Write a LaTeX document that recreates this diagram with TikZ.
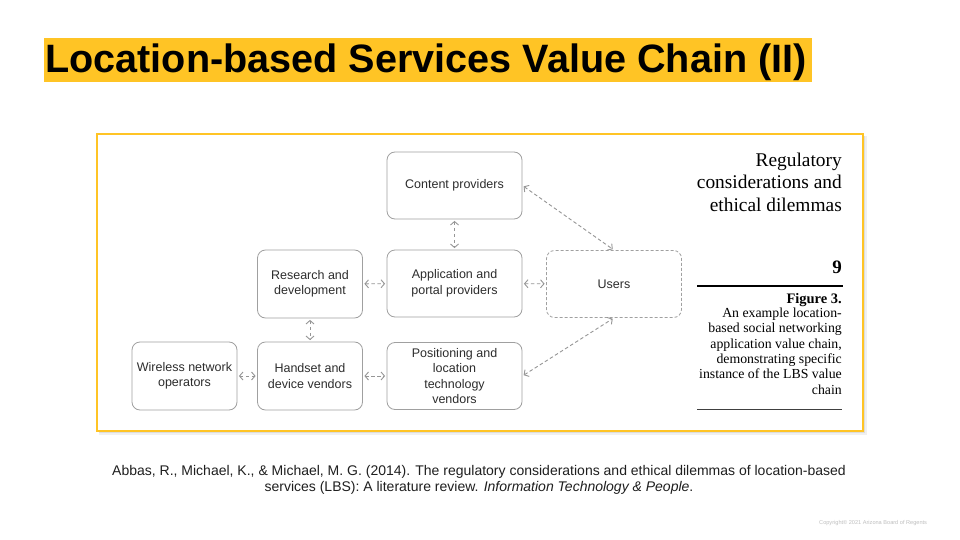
\documentclass[tikz,border=0pt]{standalone}
\usepackage{fontspec}
\setmainfont{Liberation Serif}
\setsansfont{Liberation Sans}
\usetikzlibrary{arrows.meta}

\definecolor{slideyellow}{RGB}{255,196,37}
\definecolor{boxgray}{RGB}{160,160,160}
\definecolor{linkgray}{RGB}{150,150,150}
\definecolor{labelgray}{RGB}{45,45,45}

\tikzset{
  chainbox/.style={draw=boxgray,line width=0.8pt,rounded corners=8pt,fill=white,
    minimum width=135pt,minimum height=67pt,align=center,text=labelgray,
    font=\sffamily\fontsize{12.5}{15.5}\selectfont},
  narrowbox/.style={chainbox,minimum width=105pt,minimum height=68pt},
  userbox/.style={chainbox,dashed,dash pattern=on 3pt off 2pt},
  link/.style={draw=linkgray,line width=0.9pt,dash pattern=on 3.5pt off 2.5pt,
    {Straight Barb[length=3.5pt,width=8pt]}-{Straight Barb[length=3.5pt,width=8pt]},
    shorten <=1.5pt,shorten >=1.5pt},
}

\begin{document}
\begin{tikzpicture}[x=1pt,y=-1pt]
%set diagram to the slide size
\useasboundingbox[fill=white] (0,0) rectangle (960,540);

%Title band
\fill[slideyellow] (44,38) rectangle (812,82);
\node[anchor=base west,inner sep=0pt,font=\sffamily\bfseries\fontsize{39.6}{40}\selectfont] (title) at (45,72.5) {Location-based Services Value Chain (II)};

%Figure frame with shadow
\fill[black,opacity=0.06] (99,136) rectangle (867,435);
\fill[black,opacity=0.08] (99,136) rectangle (865,433);
\fill[black,opacity=0.10] (99,136) rectangle (864,432);
\fill[white] (97,134) rectangle (863,431);
\draw[slideyellow,line width=1.6pt] (97,134) rectangle (863,431);

%Value chain nodes
\node[chainbox] (content) at (454.5,185.5) {Content providers};
\node[narrowbox] (research) at (310,284) {Research and\\development};
\node[chainbox] (portal) at (454.5,283.5) {Application and\\portal providers};
\node[userbox] (users) at (614,284) {Users};
\node[narrowbox] (wireless) at (184.5,376) {Wireless network\\operators};
\node[narrowbox] (handset) at (310,376) {Handset and\\device vendors};
\node[chainbox] (positioning) at (454.5,376) {Positioning and\\location\\technology\\vendors};

%Connectors
\draw[link] (content) -- (portal);
\draw[link] (content.east) -- (users.north);
\draw[link] (research) -- (portal);
\draw[link] (portal) -- (users);
\draw[link] (research) -- (handset);
\draw[link] (wireless) -- (handset);
\draw[link] (handset) -- (positioning);
\draw[link] (positioning.east) -- (users.south);

%Page margin text
\node[anchor=north east,inner sep=0pt,align=right,font=\fontsize{19.4}{22.5}\selectfont] (heading) at (842,152.5) {Regulatory\\considerations and\\ethical dilemmas};
\node[anchor=base east,inner sep=0pt,font=\bfseries\fontsize{19}{19}\selectfont] (pagenum) at (842,273) {9};
\draw[line width=2.5pt] (697,286) -- (843,286);
\node[anchor=base east,inner sep=0pt,font=\bfseries\fontsize{14.5}{14.5}\selectfont] (figlabel) at (842,303) {Figure 3.};
\node[anchor=north east,inner sep=0pt,align=right,font=\fontsize{13.8}{15.4}\selectfont] (caption) at (842,307.5) {An example location-\\based social networking\\application value chain,\\demonstrating specific\\instance of the LBS value\\chain};
\draw[line width=1pt,black!75] (697,409) -- (842,409);

% Text Node
\node[align=center,font=\sffamily\fontsize{14}{16}\selectfont,text=black!88] (citation) at (479,480) {Abbas, R., Michael, K., \& Michael, M. G. (2014). The regulatory considerations and ethical dilemmas of location-based\\services (LBS): A literature review. \textit{Information Technology \& People}.};
% Text Node
\node[anchor=west,inner sep=0pt,font=\sffamily\fontsize{5.6}{5.6}\selectfont,text=black!25] (copyright) at (819,523) {Copyright© 2021 Arizona Board of Regents};
\end{tikzpicture}
\end{document}
